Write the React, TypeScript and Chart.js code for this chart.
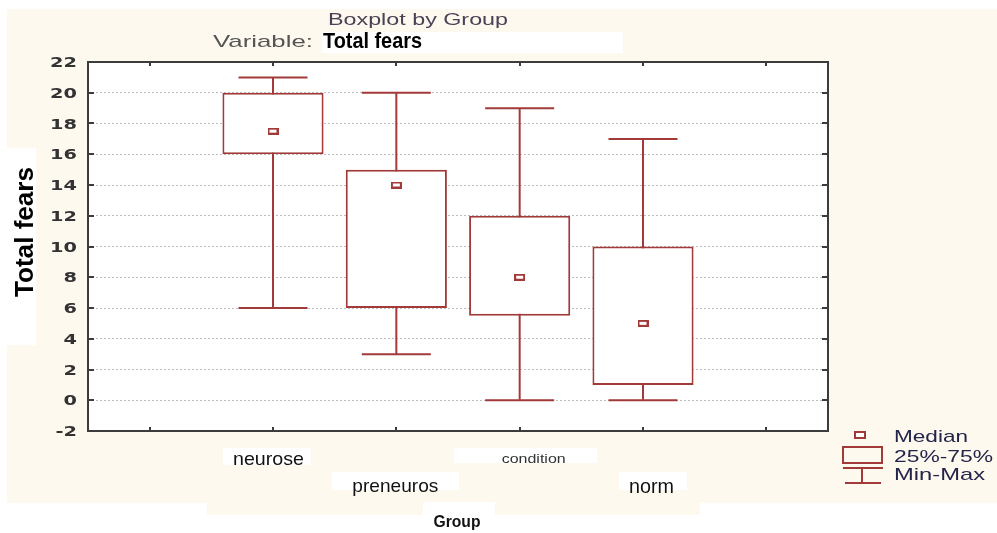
import React, { useEffect, useRef } from 'react';
import { Chart, registerables } from 'chart.js';

Chart.register(...registerables);

// ---- data ----
const groups = ['neurose', 'preneuros', 'condition', 'norm'];
const minVals = [6, 3, 0, 0];
const q1Vals = [16, 6, 5.5, 1];
const medianVals = [17.5, 14, 8, 5];
const q3Vals = [20, 15, 12, 10];
const maxVals = [21, 20, 19, 17];
const axisSlots = ['', ...groups, ''];
const legendItems = ['Median', '25%-75%', 'Min-Max'];

const W = 997;
const H = 533;
const RED = '#a23a3a';
const CREAM = '#fef9ef';

const pad = <T,>(arr: T[]): (T | null)[] => [null, ...arr, null];

function txt(
  ctx: CanvasRenderingContext2D,
  s: string,
  x: number,
  y: number,
  font: string,
  color: string,
  opts: { align?: CanvasTextAlign; width?: number; sx?: number; rotate?: boolean } = {}
) {
  ctx.save();
  ctx.font = font;
  ctx.fillStyle = color;
  ctx.textAlign = opts.align || 'left';
  ctx.textBaseline = 'alphabetic';
  const w = ctx.measureText(s).width;
  const sx = opts.width ? opts.width / w : opts.sx ?? 1;
  ctx.translate(x, y);
  if (opts.rotate) ctx.rotate(-Math.PI / 2);
  ctx.scale(sx, 1);
  ctx.fillText(s, 0, 0);
  ctx.restore();
}

const xLabelStyle: Record<string, { dx: number; base: number; font: string; width: number; color: string }> = {
  neurose: { dx: -4.5, base: 465, font: '19px "Liberation Sans", Arial', width: 71, color: '#111' },
  preneuros: { dx: -1, base: 492, font: '19px "Liberation Sans", Arial', width: 86, color: '#111' },
  condition: { dx: 14, base: 463, font: '12.5px "Liberation Sans", Arial', width: 64, color: '#333' },
  norm: { dx: 8.5, base: 493, font: '20px "Liberation Sans", Arial', width: 45, color: '#111' },
};

function makeMedianImg(): HTMLCanvasElement {
  const c = document.createElement('canvas');
  c.width = 11;
  c.height = 7;
  const g = c.getContext('2d')!;
  g.fillStyle = '#fff';
  g.fillRect(1, 1, 9, 5);
  g.strokeStyle = RED;
  g.lineWidth = 2;
  g.strokeRect(1, 1, 9, 5);
  return c;
}

const decor = {
  id: 'decor',
  beforeDraw(chart: any) {
    const ctx: CanvasRenderingContext2D = chart.ctx;
    const { left, top, right, bottom } = chart.chartArea;
    ctx.save();
    ctx.fillStyle = '#ffffff';
    ctx.fillRect(0, 0, W, H);
    ctx.fillStyle = CREAM;
    ctx.fillRect(7, 9, W - 7, 494);
    ctx.fillRect(207, 503, 493, 12);
    ctx.fillStyle = '#ffffff';
    // label patches
    ctx.fillRect(7, 148, 29, 197);
    ctx.fillRect(322, 32, 301, 21);
    ctx.fillRect(223, 448, 88, 17);
    ctx.fillRect(332, 472, 127, 18);
    ctx.fillRect(454, 448, 143, 15);
    ctx.fillRect(619, 472, 68, 18);
    ctx.fillRect(423, 502, 72, 31);
    // plot area
    ctx.fillRect(left, top, right - left, bottom - top);
    ctx.restore();
  },
  afterDatasetsDraw(chart: any) {
    const ctx: CanvasRenderingContext2D = chart.ctx;
    const { left, top, right, bottom } = chart.chartArea;
    const ys = chart.scales.y;
    const xs = chart.scales.x;
    ctx.save();
    ctx.strokeStyle = '#3c3c3c';
    ctx.lineWidth = 2;
    ctx.strokeRect(left, top, right - left, bottom - top);
    ctx.beginPath();
    ys.ticks.forEach((t: any) => {
      if (t.value <= ys.min || t.value >= ys.max) return;
      const py = Math.round(ys.getPixelForValue(t.value));
      ctx.moveTo(left, py);
      ctx.lineTo(left + 6, py);
      ctx.moveTo(right, py);
      ctx.lineTo(right - 6, py);
    });
    axisSlots.forEach((_, i) => {
      const px = Math.round(xs.getPixelForValue(i));
      ctx.moveTo(px, top);
      ctx.lineTo(px, top + 4);
      ctx.moveTo(px, bottom);
      ctx.lineTo(px, bottom - 4);
    });
    ctx.stroke();
    ctx.restore();
  },
  afterDraw(chart: any) {
    const ctx: CanvasRenderingContext2D = chart.ctx;
    const ys = chart.scales.y;
    const xs = chart.scales.x;
    // titles
    txt(ctx, 'Boxplot by Group', 418, 25, '17px "Liberation Sans", Arial', '#4b4256', { align: 'center', width: 180 });
    txt(ctx, 'Variable:', 213, 47, '17px "Liberation Sans", Arial', '#555', { width: 100 });
    txt(ctx, 'Total fears', 323, 48, 'bold 22px "Liberation Sans Narrow", "Liberation Sans", Arial', '#000', { width: 99 });
    // y tick labels
    ys.ticks.forEach((t: any) => {
      const py = ys.getPixelForValue(t.value);
      txt(ctx, String(t.value), 77, py + 5, 'bold 14px "DejaVu Sans"', '#333', { align: 'right', sx: 1.38 });
    });
    // y title
    txt(ctx, 'Total fears', 33, 232, 'bold 26px "Liberation Sans", Arial', '#000', { align: 'center', rotate: true, width: 130 });
    // x labels
    axisSlots.forEach((lab, i) => {
      const st = xLabelStyle[lab];
      if (!st) return;
      const px = xs.getPixelForValue(i) + st.dx;
      txt(ctx, lab, px, st.base, st.font, st.color, { align: 'center', width: st.width });
    });
    txt(ctx, 'Group', 457, 527, 'bold 17px "Liberation Sans Narrow", "Liberation Sans", Arial', '#111', { align: 'center', width: 47 });
    // legend
    ctx.save();
    ctx.strokeStyle = RED;
    ctx.lineWidth = 2;
    ctx.fillStyle = '#fff';
    ctx.fillRect(855, 432, 10, 6);
    ctx.strokeRect(855, 432, 10, 6);
    ctx.strokeRect(843, 447, 39, 16);
    ctx.beginPath();
    ctx.moveTo(843, 468);
    ctx.lineTo(883, 468);
    ctx.moveTo(862, 468);
    ctx.lineTo(862, 483);
    ctx.moveTo(845, 483);
    ctx.lineTo(881, 483);
    ctx.stroke();
    ctx.restore();
    const lf = '17px "Liberation Sans", Arial';
    txt(ctx, legendItems[0], 894, 442, lf, '#23244a', { width: 74 });
    txt(ctx, legendItems[1], 894, 462, lf, '#23244a', { width: 99 });
    txt(ctx, legendItems[2], 894, 480, lf, '#23244a', { width: 91 });
  },
};

export default function App() {
  const ref = useRef<HTMLCanvasElement>(null);
  useEffect(() => {
    if (!ref.current) return;
    const medianImg = makeMedianImg();
    const chart = new Chart(ref.current, {
      type: 'bar',
      data: {
        labels: axisSlots,
        datasets: [
          {
            type: 'line',
            label: 'Median',
            data: pad(medianVals),
            showLine: false,
            pointStyle: medianImg as any,
            pointRadius: 5,
            order: 0,
          } as any,
          {
            type: 'line',
            label: 'Max',
            data: pad(maxVals),
            showLine: false,
            pointStyle: 'line',
            pointRadius: 34.5,
            pointBorderWidth: 2,
            pointBorderColor: RED,
            order: 1,
          } as any,
          {
            type: 'line',
            label: 'Min',
            data: pad(minVals),
            showLine: false,
            pointStyle: 'line',
            pointRadius: 34.5,
            pointBorderWidth: 2,
            pointBorderColor: RED,
            order: 1,
          } as any,
          {
            type: 'bar',
            label: '25%-75%',
            data: pad(groups.map((_, i) => [q1Vals[i], q3Vals[i]])),
            backgroundColor: '#ffffff',
            borderColor: RED,
            borderWidth: 2,
            borderSkipped: false,
            barPercentage: 0.82,
            categoryPercentage: 1,
            grouped: false,
            order: 2,
          } as any,
          {
            type: 'bar',
            label: 'Min-Max',
            data: pad(groups.map((_, i) => [minVals[i], maxVals[i]])),
            backgroundColor: RED,
            borderWidth: 0,
            barPercentage: 2 / 123.33,
            categoryPercentage: 1,
            grouped: false,
            order: 3,
          } as any,
        ],
      },
      options: {
        responsive: false,
        animation: false,
        events: [],
        layout: { padding: { left: 0, top: 62, right: 169, bottom: 0 } },
        plugins: { legend: { display: false }, tooltip: { enabled: false }, title: { display: false } },
        scales: {
          x: {
            type: 'category',
            offset: true,
            grid: { display: false, drawTicks: false },
            border: { display: false },
            ticks: { display: false },
            afterFit: (s: any) => {
              s.height = 102;
            },
          },
          y: {
            min: -2,
            max: 22,
            ticks: { display: false, stepSize: 2 },
            grid: { color: '#bdbdbd', lineWidth: 1, drawTicks: false },
            border: { display: false, dash: [2, 2] },
            afterFit: (s: any) => {
              s.width = 88;
            },
          },
        },
      },
      plugins: [decor],
    });
    return () => chart.destroy();
  }, []);
  return (
    <div style={{ position: 'fixed', left: 0, top: 0, width: W, height: H }}>
      <canvas ref={ref} width={W} height={H} style={{ width: W, height: H, display: 'block' }} />
    </div>
  );
}
